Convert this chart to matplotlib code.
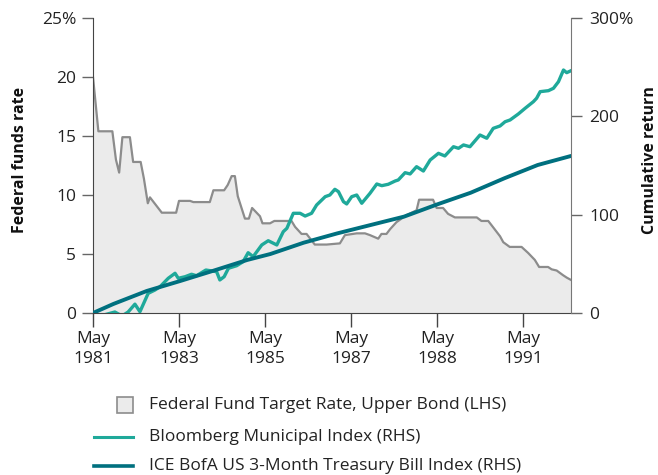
import matplotlib
matplotlib.use("Agg")
import matplotlib.pyplot as plt
from matplotlib.patches import Rectangle
from matplotlib.lines import Line2D

plt.rcParams['font.family'] = ['Open Sans', 'DejaVu Sans']

# ---- data (x = months since May 1981) ----
tick_months = [0, 24, 48, 72, 96, 120]
tick_labels = ["May\n1981", "May\n1983", "May\n1985", "May\n1987", "May\n1988", "May\n1991"]

fed_month = [0, 1.5, 5.4, 6.4, 7.3, 8.2, 10.3, 11.2, 13.3, 14.2, 15.3, 15.9, 19.2, 23.2, 24.0,
             27.1, 28.0, 32.6, 33.6, 36.6, 37.6, 38.7, 39.6, 40.4, 42.4, 43.5, 44.4, 46.6, 47.3,
             49.4, 50.6, 55.4, 56.4, 58.2, 59.6, 61.9, 65.2, 68.9, 70.3, 73.6, 75.9, 77.3, 79.6,
             80.5, 81.9, 82.9, 84.7, 87.5, 90.3, 91.0, 94.9, 95.9, 97.7, 99.1, 101.0, 107.1,
             108.4, 110.3, 111.2, 113.6, 114.5, 116.3, 119.6, 121.4, 123.3, 124.5, 127.0, 128.0,
             129.4, 131.2, 132.2, 133.4]
fed_rate = [20.0, 15.4, 15.4, 13.0, 11.9, 14.9, 14.9, 12.8, 12.8, 11.4, 9.3, 9.8, 8.5, 8.5, 9.5,
            9.5, 9.4, 9.4, 10.4, 10.4, 10.85, 11.6, 11.6, 9.9, 8.0, 8.0, 8.9, 8.2, 7.6,
            7.6, 7.8, 7.8, 7.3, 6.7, 6.7, 5.8, 5.8, 5.9, 6.6, 6.75, 6.75, 6.6, 6.3,
            6.7, 6.7, 7.1, 7.7, 8.3, 8.7, 9.6, 9.6, 8.9, 8.9, 8.4, 8.1, 8.1,
            7.8, 7.8, 7.45, 6.5, 6.0, 5.6, 5.6, 5.1, 4.5, 3.9, 3.9, 3.7,
            3.6, 3.2, 3.0, 2.8]

muni_month = [0, 2.0, 6.1, 8.1, 9.8, 11.7, 13.1, 15.4, 17.3, 18.7, 21.0, 22.9, 23.8, 25.7, 27.5,
              28.9, 31.5, 34.5, 35.4, 36.6, 37.8, 40.1, 41.9, 43.3, 44.7, 47.1, 48.9, 51.3, 53.1,
              54.1, 55.9, 57.8, 59.2, 61.0, 62.4, 64.8, 66.1, 67.5, 68.5, 69.9, 70.8, 72.2, 73.6,
              75.0, 77.3, 79.2, 80.6, 82.4, 84.3, 85.2, 87.1, 88.5, 90.3, 92.2, 94.1, 96.4, 98.2,
              100.6, 102.0, 103.4, 105.2, 108.0, 109.9, 111.7, 113.6, 115.0, 116.4, 118.7, 120.6,
              122.9, 123.8, 124.8, 127.1, 128.5, 129.9, 131.3, 132.2, 133.4]
muni_ret = [0, -3, 1, -3, 1, 9, 1.3, 20, 23.4, 26.7, 35.3, 40.4, 35.3, 36.9, 39.4,
            37.9, 43.7, 42, 33.6, 36.9, 45.5, 48.1, 52.2, 61.3, 57.3, 69.2, 73.5, 69.2, 82.7,
            86.1, 101.4, 101.4, 98.6, 101.4, 109.8, 118.3, 120, 125.8, 123.4, 113.2, 110.9, 118.3, 120,
            111.6, 121.7, 131.2, 129.5, 130.9, 134.2, 135.3, 142.7, 141.4, 148.8, 144.4, 155.6, 162.4, 159.7,
            169.1, 167.5, 170.9, 169.1, 181, 177.7, 187.8, 190.2, 194.5, 196.3, 202.4, 208.2,
            214.9, 218.4, 225.1, 226.1, 228.5, 235.2, 247.1, 244.4, 246.4]

tbill_month = [0, 5.7, 15.0, 24.3, 33.6, 43.0, 49.5, 58.8, 68.2, 77.5, 86.8, 96.1, 105.4, 114.8, 124.1, 133.4]
tbill_ret = [0, 9.2, 22.4, 32.5, 43, 53.9, 60, 71.5, 81, 89.5, 98, 110.5, 122.3, 137, 150.5, 159.7]

# ---- figure ----
W, H = 658, 475
fig = plt.figure(figsize=(W / 100, H / 100), dpi=100)
L, R, T, B = 93, 571, 18, 313
ax = fig.add_axes([L / W, 1 - B / H, (R - L) / W, (B - T) / H])

ax.fill_between(fed_month, fed_rate, 0, color='#ebebeb', lw=0, zorder=1)
ax.plot(fed_month, fed_rate, color='#8c8c8c', lw=1.6, zorder=2)
ax.set_ylim(0, 25)
ax.set_xlim(0, 133.4)
ax.set_yticks([0, 5, 10, 15, 20, 25])
ax.set_yticklabels(['0', '5', '10', '15', '20', '25%'])
ax.set_xticks(tick_months)
ax.set_xticklabels(tick_labels, linespacing=1.3)

ax2 = ax.twinx()
ax2.plot(muni_month, muni_ret, color='#1fa99a', lw=2.4, zorder=3, solid_joinstyle='round')
ax2.plot(tbill_month, tbill_ret, color='#00707f', lw=2.8, zorder=4, solid_capstyle='round')
ax2.set_ylim(0, 300)
ax2.set_yticks([0, 100, 200, 300])
ax2.set_yticklabels(['0', '100', '200', '300%'])
ax2.set_xlim(0, 133.4)

for a in (ax, ax2):
    a.spines['top'].set_visible(False)
ax.spines['left'].set_color('#444444')
ax.spines['bottom'].set_color('#444444')
ax2.spines['left'].set_visible(False)
ax2.spines['bottom'].set_visible(False)
ax2.spines['right'].set_color('#777777')
ax.spines['right'].set_visible(False)

FS = 12.5
ax.tick_params(axis='y', length=8, width=1, color='#666666', labelsize=FS, labelcolor='#222222', pad=4)
ax.tick_params(axis='x', length=10, width=1, color='#444444', labelsize=FS, labelcolor='#222222', pad=3)
ax2.tick_params(axis='y', length=8, width=1, color='#666666', labelsize=FS, labelcolor='#222222', pad=5)

fig.text(20 / W, 1 - 160 / H, 'Federal funds rate', rotation=90, ha='center', va='center',
         fontsize=11.5, fontweight='bold', color='#111111')
fig.text(650 / W, 1 - 160 / H, 'Cumulative return', rotation=90, ha='center', va='center',
         fontsize=11.5, fontweight='bold', color='#111111')

# ---- legend (manual) ----
rows = [405, 437, 466]
fig.patches.append(Rectangle((117 / W, 1 - 413 / H), 16 / W, 16 / H, transform=fig.transFigure,
                             facecolor='#ebebeb', edgecolor='#8c8c8c', lw=1.2))
fig.lines.append(Line2D([94 / W, 133 / W], [1 - rows[1] / H] * 2, transform=fig.transFigure,
                        color='#1fa99a', lw=2.2))
fig.lines.append(Line2D([94 / W, 133 / W], [1 - rows[2] / H] * 2, transform=fig.transFigure,
                        color='#00707f', lw=2.6))
labels = ['Federal Fund Target Rate, Upper Bond (LHS)', 'Bloomberg Municipal Index (RHS)',
          'ICE BofA US 3-Month Treasury Bill Index (RHS)']
for y, t in zip(rows, labels):
    fig.text(149 / W, 1 - y / H, t, ha='left', va='center', fontsize=FS, color='#222222')

fig.savefig('out.png', dpi=100)
